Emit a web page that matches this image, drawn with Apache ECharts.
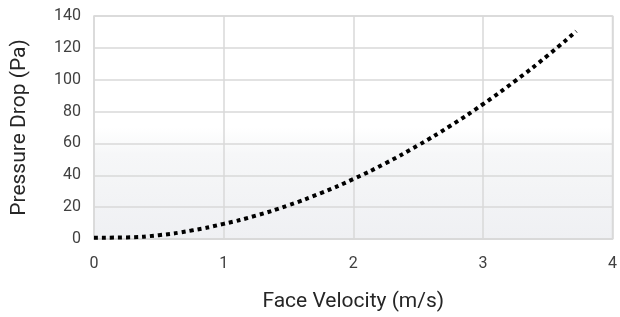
<!DOCTYPE html>
<html>
<head>
<meta charset="utf-8">
<script src="https://cdn.jsdelivr.net/npm/echarts@6/dist/echarts.min.js"></script>
<style>
  html, body { margin: 0; padding: 0; background: #fff; }
  #chart { width: 620px; height: 317px; }
</style>
</head>
<body>
<div id="chart"></div>
<script>
// face velocity (m/s) and pressure drop (Pa)
var velocity = [0, 0.25, 0.5, 0.75, 1, 1.25, 1.5, 1.75, 2, 2.25, 2.5, 2.75, 3, 3.25, 3.5, 3.72];
var pressure = [0.8, 1, 2.4, 5.3, 9.5, 14.7, 21.2, 28.8, 37.6, 47.6, 58.8, 71.1, 84.6, 99.3, 115.2, 130.5];

var points = velocity.map(function (v, i) { return [v, pressure[i]]; });

var chart = echarts.init(document.getElementById('chart'));
var option = {
    animation: false,
    grid: {
        left: 94,
        right: 7,
        top: 16,
        bottom: 78,
        show: true,
        borderColor: '#d9d9d9',
        borderWidth: 1.5,
        backgroundColor: new echarts.graphic.LinearGradient(0, 0, 0, 1, [
            { offset: 0, color: '#ffffff' },
            { offset: 0.5, color: '#ffffff' },
            { offset: 0.62, color: '#f6f7f8' },
            { offset: 1, color: '#eff0f3' }
        ])
    },
    xAxis: {
        type: 'value',
        min: 0,
        max: 4,
        interval: 1,
        name: 'Face Velocity (m/s)',
        nameLocation: 'middle',
        nameGap: 52,
        nameTextStyle: { fontFamily: 'Roboto', fontSize: 21, color: '#262626' },
        axisLine: { show: true, lineStyle: { color: '#d9d9d9', width: 1.5 } },
        axisTick: { show: false },
        axisLabel: { margin: 17, fontFamily: 'Roboto', fontSize: 16, color: '#404040' },
        splitLine: { show: true, lineStyle: { color: '#d9d9d9', width: 1.5 } }
    },
    yAxis: {
        type: 'value',
        min: 0,
        max: 140,
        interval: 20,
        name: 'Pressure Drop (Pa)',
        nameLocation: 'middle',
        nameGap: 64,
        nameTextStyle: { fontFamily: 'Roboto', fontSize: 21, color: '#262626' },
        axisLine: { show: false },
        axisTick: { show: false },
        axisLabel: { margin: 13, fontFamily: 'Roboto', fontSize: 16, color: '#404040' },
        splitLine: { show: true, lineStyle: { color: '#d9d9d9', width: 1.5 } }
    },
    series: [{
        type: 'line',
        data: points,
        smooth: true,
        showSymbol: false,
        lineStyle: { color: '#000', width: 4, type: [4, 4] }
    }]
};
chart.setOption(option);
</script>
</body>
</html>
